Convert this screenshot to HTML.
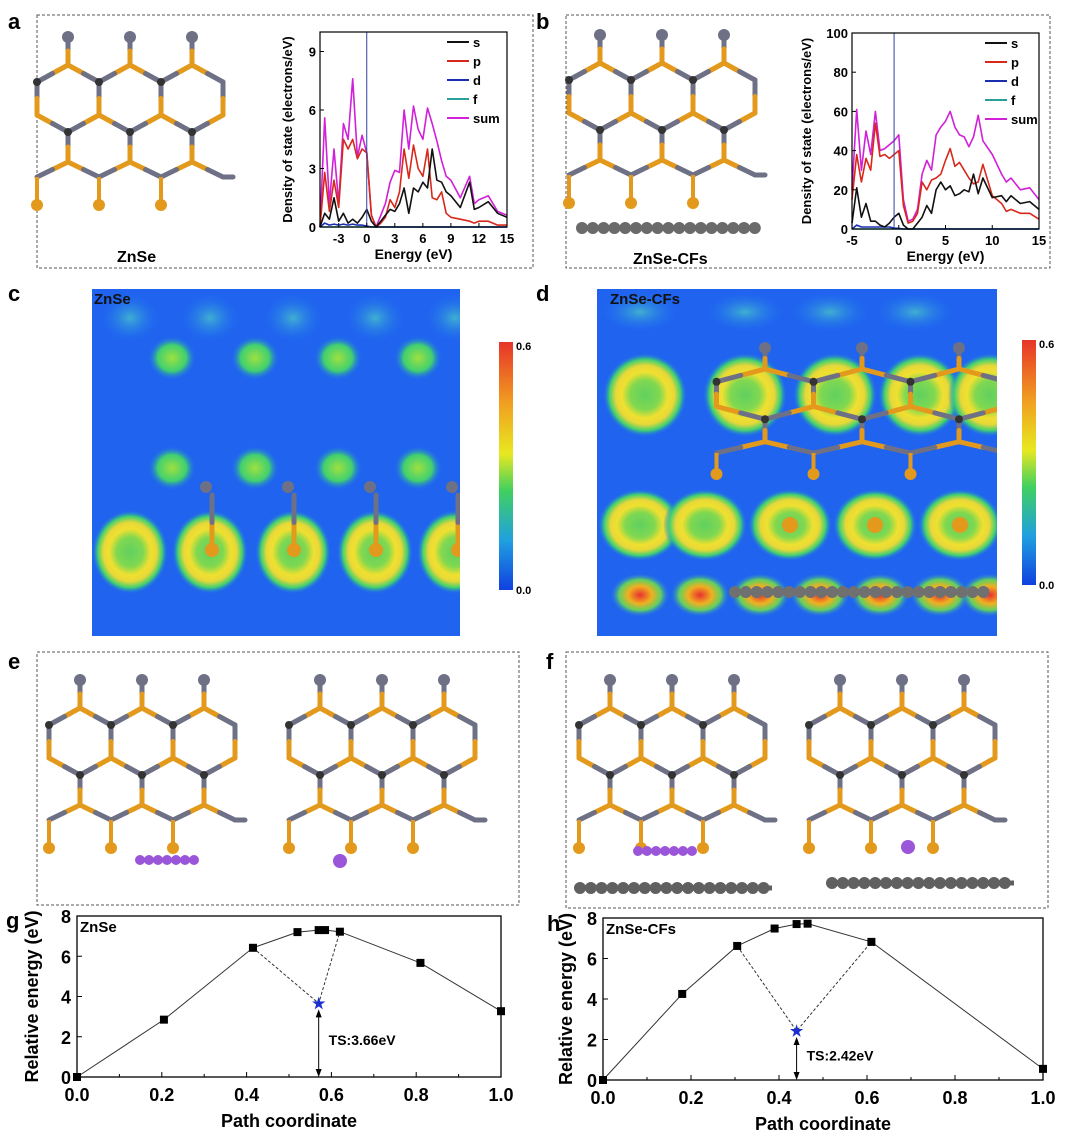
<!DOCTYPE html>
<html><head><meta charset="utf-8">
<style>
html,body{margin:0;padding:0;background:#fff;}
body{width:1080px;height:1139px;position:relative;overflow:hidden;font-family:"Liberation Sans",Arial,sans-serif;}
svg{position:absolute;left:0;top:0;}
text{font-family:"Liberation Sans",Arial,sans-serif;font-weight:bold;}
</style></head>
<body>
<svg id="fig" width="1080" height="1139" viewBox="0 0 1080 1139">
<defs>
<linearGradient id="cbar" x1="0" y1="0" x2="0" y2="1">
<stop offset="0" stop-color="#e8342a"/><stop offset="0.25" stop-color="#f0a020"/><stop offset="0.45" stop-color="#e8e820"/><stop offset="0.6" stop-color="#40d060"/><stop offset="0.8" stop-color="#20a0e0"/><stop offset="1" stop-color="#1040e0"/>
</linearGradient>
<radialGradient id="blob"><stop offset="0" stop-color="#9ee040"/><stop offset="0.6" stop-color="#40d070"/><stop offset="1" stop-color="#2070f0" stop-opacity="0"/></radialGradient>
<radialGradient id="faint"><stop offset="0" stop-color="#40b0d0"/><stop offset="1" stop-color="#2070f0" stop-opacity="0"/></radialGradient>
<radialGradient id="ring"><stop offset="0" stop-color="#60d060"/><stop offset="0.35" stop-color="#80d850"/><stop offset="0.55" stop-color="#f0e030"/><stop offset="0.7" stop-color="#e8d838"/><stop offset="0.85" stop-color="#40d070"/><stop offset="1" stop-color="#2070f0" stop-opacity="0"/></radialGradient>
<radialGradient id="redb"><stop offset="0" stop-color="#e83030"/><stop offset="0.4" stop-color="#f0b020"/><stop offset="0.7" stop-color="#60d060"/><stop offset="1" stop-color="#2070f0" stop-opacity="0"/></radialGradient>
<clipPath id="clipc"><rect x="92" y="289" width="368" height="347"/></clipPath>
<clipPath id="clipd"><rect x="597" y="289" width="400" height="347"/></clipPath>
</defs>
<g id="panels"></g>
</svg>
<script>
// ---------- DOS data ----------
const energies = [-5,-4.5,-4,-3.5,-3,-2.5,-2,-1.5,-1,-0.5,0,0.5,1,1.5,2,2.5,3,3.5,4,4.5,5,5.5,6,6.5,7,7.5,8,8.5,9,10,11,11.5,12,13,14,15];
const sumA = [0,5.6,1.2,4.0,1.2,5.3,4.5,7.6,3.6,4.7,3.8,0.6,0,0.6,1.2,2.3,2.9,2.8,6.0,4.0,6.2,5.0,4.5,6.1,5.3,4.4,3.4,2.6,2.4,1.5,2.6,1.2,1.4,1.6,0.8,0.6];
const pA = [0,2.8,0.8,2.4,1.0,4.5,4.0,4.5,3.5,4.0,3.8,0.6,0,0.2,0.5,1.4,1.0,1.8,4.0,2.5,4.2,3.0,2.6,4.0,1.5,1.4,1.8,0.7,0.5,0.4,0.3,0.2,0.3,0.3,0.1,0.1];
const sA = [0,0.7,0.4,1.5,0.3,0.7,0.2,0.4,0.2,0.5,0.9,0.3,0,0.3,0.6,0.9,0.8,1.2,2.0,0.7,2.0,1.8,2.3,2.0,4.0,2.4,2.3,1.8,1.6,1.0,2.3,0.9,1.0,1.3,0.7,0.5];
const dA = [0,0.2,0.1,0.15,0.1,0.15,0.1,0.15,0.1,0.1,0.05,0,0,0,0,0,0,0,0,0,0,0,0,0,0,0,0,0,0,0,0,0,0,0,0,0];
const sumB = [20,61,30,50,38,60,40,41,43,45,48,15,4,5,10,28,35,30,48,52,55,60,52,48,47,42,47,58,45,38,28,24,26,20,21,15];
const pB = [15,38,24,36,30,54,37,38,36,38,40,12,3,4,8,24,20,25,26,28,35,41,32,34,30,26,23,24,33,17,13,9,10,8,8,5];
const sB = [3,21,6,13,4,4,2,1,3,6,8,2,0,0,3,6,12,8,20,24,20,22,17,18,20,19,28,18,26,16,17,14,17,13,14,10];
const dB = [0,2,1,1,1,1,1,1,1,0.5,0.3,0,0,0,0,0,0,0,0,0,0,0,0,0,0,0,0,0,0,0,0,0,0,0,0,0];
const ticksA_x = [-3,0,3,6,9,12,15];
const ticksA_y = [0,3,6,9];
const ticksB_x = [-5,0,5,10,15];
const ticksB_y = [0,20,40,60,80,100];
// ---------- NEB data ----------
const pathG = [0,0.205,0.415,0.52,0.57,0.585,0.62,0.81,1.0];
const energyG = [0,2.85,6.42,7.2,7.3,7.3,7.22,5.67,3.27];
const tsG = [0.57,3.66];
const pathH = [0,0.18,0.305,0.39,0.44,0.465,0.61,1.0];
const energyH = [0,4.25,6.62,7.48,7.7,7.72,6.82,0.55];
const tsH = [0.44,2.42];
const ticksPath = [0,0.2,0.4,0.6,0.8,1.0];
const ticksEnergy = [0,2,4,6,8];

const NS="http://www.w3.org/2000/svg";
const root=document.getElementById('panels');
function el(tag,attrs,parent,txt){const e=document.createElementNS(NS,tag);for(const k in attrs)e.setAttribute(k,attrs[k]);if(txt!==undefined)e.textContent=txt;(parent||root).appendChild(e);return e;}

function box(x,y,w,h,name){const r=el('rect',{x:x,y:y,width:w,height:h,fill:'none',stroke:'#555','stroke-dasharray':'3,2','stroke-width':1});

}
box(37,15,496,253,'panel-a-frame');box(566,15,484,253,'panel-b-frame');
box(37,652,482,253,'panel-e-frame');box(566,652,482,256,'panel-f-frame');

function label(t,x,y,name,size){const e=el('text',{x:x,y:y,'font-size':size||22,fill:'#000'},root,t);

return e;}
label('a',8,29,'panel-label-a');label('b',536,29,'panel-label-b');
label('c',8,301,'panel-label-c');label('d',536,301,'panel-label-d');
label('e',8,669,'panel-label-e');label('f',546,669,'panel-label-f');
label('g',6,928,'panel-label-g');label('h',547,931,'panel-label-h');

function stick(g,x1,y1,x2,y2,c1,c2){const mx=(x1+x2)/2,my=(y1+y2)/2;
el('line',{x1:x1,y1:y1,x2:mx,y2:my,stroke:c1,'stroke-width':5,'stroke-linecap':'round'},g);
el('line',{x1:mx,y1:my,x2:x2,y2:y2,stroke:c2,'stroke-width':5,'stroke-linecap':'round'},g);}
const GR='#6e7086',OR='#e39a1c';
function slab(x0,y0,n,dx,name,scale,parent){const g=el('g',{},parent||root);


const s=scale||1;
for(let i=0;i<n;i++){const x=x0+i*dx;
 stick(g,x,y0,x,y0+28*s,GR,OR);
 stick(g,x,y0+28*s,x-dx/2,y0+45*s,OR,GR);stick(g,x,y0+28*s,x+dx/2,y0+45*s,OR,GR);
 stick(g,x-dx/2,y0+45*s,x-dx/2,y0+78*s,GR,OR);
 stick(g,x-dx/2,y0+78*s,x,y0+95*s,OR,GR);stick(g,x+dx/2,y0+78*s,x,y0+95*s,OR,GR);
 stick(g,x,y0+95*s,x,y0+125*s,GR,OR);
 stick(g,x,y0+125*s,x-dx/2,y0+140*s,OR,GR);stick(g,x,y0+125*s,x+dx/2,y0+140*s,OR,GR);
 el('line',{x1:x-dx/2,y1:y0+140*s,x2:x-dx/2,y2:y0+165*s,stroke:OR,'stroke-width':4},g);
 el('circle',{cx:x-dx/2,cy:y0+168*s,r:6,fill:OR},g);
 el('circle',{cx:x,cy:y0,r:6,fill:GR},g);
 el('circle',{cx:x-dx/2,cy:y0+45*s,r:4,fill:'#333'},g);
 el('circle',{cx:x,cy:y0+95*s,r:4,fill:'#333'},g);
}
const x=x0+n*dx; stick(g,x-dx/2,y0+45*s,x-dx/2,y0+78*s,GR,OR);
stick(g,x-dx/2,y0+140*s,x-dx/2+10,y0+140*s,GR,GR);
return g;}
slab(68,37,3,62,'znse-structure-a');
slab(600,35,3,62,'znse-structure-b');
slab(80,680,3,62,'znse-structure-e-left');
slab(320,680,3,62,'znse-structure-e-right');
slab(610,680,3,62,'znse-structure-f-left');
slab(840,680,3,62,'znse-structure-f-right');
function chain(x1,x2,y,name,col,r,parent){const g=el('g',{},parent||root);


el('line',{x1:x1,y1:y,x2:x2,y2:y,stroke:col,'stroke-width':5},g);
for(let x=x1;x<=x2;x+=r*1.8)el('circle',{cx:x,cy:y,r:r,fill:col},g);}
chain(582,760,228,'carbon-layer-b','#6a6a6a',6);
chain(140,196,860,'li-cluster-e','#9a55d8',5);
chain(638,696,851,'li-cluster-f','#9a55d8',5);
chain(580,772,888,'carbon-layer-f-left','#606060',6);
chain(832,1014,883,'carbon-layer-f-right','#606060',6);
el('circle',{cx:340,cy:861,r:7,fill:'#9a55d8'});
el('circle',{cx:908,cy:847,r:7,fill:'#9a55d8'});
label('ZnSe',117,262,'caption-znse-a',16);
label('ZnSe-CFs',633,264,'caption-znse-cfs-b',16);

function heat(x,y,w,h,name,clip){const g=el('g',{'clip-path':'url(#'+clip+')'},root);


el('rect',{x:x,y:y,width:w,height:h,fill:'#1f63ef'},g);return g;}
const gc=heat(92,289,368,347,'charge-density-map-znse','clipc');
[130,210,293,375,455].forEach(cx=>el('ellipse',{cx:cx,cy:318,rx:30,ry:25,fill:'url(#faint)'},gc));
[172,255,338,418].forEach(cx=>{el('ellipse',{cx:cx,cy:358,rx:24,ry:22,fill:'url(#blob)'},gc);el('ellipse',{cx:cx,cy:468,rx:24,ry:22,fill:'url(#blob)'},gc);});
[130,210,293,375,455].forEach(cx=>el('ellipse',{cx:cx,cy:552,rx:38,ry:42,fill:'url(#ring)'},gc));
[212,294,376,458].forEach(cx=>{stick(gc,cx,550,cx,495,OR,GR);el('circle',{cx:cx,cy:550,r:7,fill:OR},gc);el('circle',{cx:cx-6,cy:487,r:6,fill:GR},gc);});
el('text',{x:94,y:304,'font-size':15,fill:'#111'},gc,'ZnSe');
const gd=heat(597,289,400,347,'charge-density-map-znse-cfs','clipd');
[640,745,830,915].forEach(cx=>el('ellipse',{cx:cx,cy:312,rx:40,ry:20,fill:'url(#faint)'},gd));
[645,745,835,920,990].forEach(cx=>el('ellipse',{cx:cx,cy:395,rx:42,ry:42,fill:'url(#ring)'},gd));
[640,705,790,875,960].forEach(cx=>el('ellipse',{cx:cx,cy:525,rx:42,ry:36,fill:'url(#ring)'},gd));
[640,700,760,820,880,940,990].forEach(cx=>el('ellipse',{cx:cx,cy:595,rx:30,ry:22,fill:'url(#redb)'},gd));
slab(765,348,3,97,'znse-structure-d',0.75,gd);
chain(735,985,592,'carbon-layer-d','#707070',6,gd);
[790,875,960].forEach(cx=>el('circle',{cx:cx,cy:525,r:8,fill:OR},gd));
el('text',{x:610,y:304,'font-size':15,fill:'#111'},gd,'ZnSe-CFs');
function cbar(x,y,h,name){const g=el('g',{},root);


el('rect',{x:x,y:y,width:14,height:h,fill:'url(#cbar)'},g);
el('text',{x:x+17,y:y+8,'font-size':11},g,'0.6');el('text',{x:x+17,y:y+h+4,'font-size':11},g,'0.0');}
cbar(499,342,248,'colorbar-c');cbar(1022,340,245,'colorbar-d');

function dos(cfg){const g=el('g',{},root);


const X=v=>cfg.x0+(v-cfg.xmin)/(cfg.xmax-cfg.xmin)*(cfg.x1-cfg.x0);
const Y=v=>cfg.y0-(v-cfg.ymin)/(cfg.ymax-cfg.ymin)*(cfg.y0-cfg.y1);
const series=[[cfg.f,'#2aa198','f'],[cfg.d,'#1a2fb0','d'],[cfg.sum,'#d020d8','sum'],[cfg.p,'#d8281c','p'],[cfg.s,'#111','s']];
series.forEach(([arr,col,nm])=>{const pts=energies.map((e,i)=>X(e).toFixed(1)+','+Y(arr[i]).toFixed(1)).join(' ');
const pl=el('polyline',{points:pts,fill:'none',stroke:col,'stroke-width':1.6,'stroke-linejoin':'round'},g);

});
el('line',{x1:X(cfg.vline),y1:cfg.y1,x2:X(cfg.vline),y2:cfg.y0,stroke:'#3040a0','stroke-width':1},g);
el('rect',{x:cfg.x0,y:cfg.y1,width:cfg.x1-cfg.x0,height:cfg.y0-cfg.y1,fill:'none',stroke:'#000','stroke-width':1.2},g);
cfg.tx.forEach(t=>{el('line',{x1:X(t),y1:cfg.y0,x2:X(t),y2:cfg.y0-4,stroke:'#000'},g);el('text',{x:X(t),y:cfg.y0+16,'font-size':13,'text-anchor':'middle'},g,String(t));});
cfg.ty.forEach(t=>{el('line',{x1:cfg.x0,y1:Y(t),x2:cfg.x0+4,y2:Y(t),stroke:'#000'},g);el('text',{x:cfg.x0-4,y:Y(t)+5,'font-size':13,'text-anchor':'end'},g,String(t));});
el('text',{x:(cfg.x0+cfg.x1)/2,y:cfg.y0+32,'font-size':14,'text-anchor':'middle'},g,'Energy (eV)');
el('text',{x:0,y:0,'font-size':13,'text-anchor':'middle',transform:`translate(${cfg.ylx},${(cfg.y0+cfg.y1)/2}) rotate(-90)`},g,'Density of state (electrons/eV)');
const leg=[['s','#111'],['p','#d8281c'],['d','#1a2fb0'],['f','#2aa198'],['sum','#d020d8']];
leg.forEach(([t,c],i)=>{const yy=cfg.y1+10+i*19;el('line',{x1:cfg.lx,y1:yy,x2:cfg.lx+22,y2:yy,stroke:c,'stroke-width':2},g);el('text',{x:cfg.lx+26,y:yy+5,'font-size':13},g,t);});
}
dos({name:'dos-chart-znse',x0:320,x1:507,y0:227,y1:32,xmin:-5,xmax:15,ymin:0,ymax:10,s:sA,p:pA,d:dA,f:energies.map(()=>0),sum:sumA,tx:ticksA_x,ty:ticksA_y,vline:0,ylx:292,lx:447});
dos({name:'dos-chart-znse-cfs',x0:852,x1:1039,y0:229,y1:33,xmin:-5,xmax:15,ymin:0,ymax:100,s:sB,p:pB,d:dB,f:energies.map(()=>0),sum:sumB,tx:ticksB_x,ty:ticksB_y,vline:-0.5,ylx:811,lx:985});

function neb(cfg){const g=el('g',{},root);


const X=v=>cfg.x0+v*(cfg.x1-cfg.x0);const Y=v=>cfg.y0-v/8*(cfg.y0-cfg.y1);
el('rect',{x:cfg.x0,y:cfg.y1,width:cfg.x1-cfg.x0,height:cfg.y0-cfg.y1,fill:'none',stroke:'#000','stroke-width':1.3},g);
const pl=el('polyline',{points:cfg.px.map((p,i)=>X(p)+','+Y(cfg.py[i])).join(' '),fill:'none',stroke:'#333','stroke-width':1},g);


const ia=cfg.dashFrom,ib=cfg.dashTo;
el('polyline',{points:`${X(cfg.px[ia])},${Y(cfg.py[ia])} ${X(cfg.ts[0])},${Y(cfg.ts[1])} ${X(cfg.px[ib])},${Y(cfg.py[ib])}`,fill:'none',stroke:'#333','stroke-width':1,'stroke-dasharray':'3,2'},g);
cfg.px.forEach((p,i)=>{const r=el('rect',{x:X(p)-4,y:Y(cfg.py[i])-4,width:8,height:8,fill:'#000'},g);

});
el('line',{x1:X(cfg.ts[0]),y1:Y(cfg.ts[1])+8,x2:X(cfg.ts[0]),y2:cfg.y0-2,stroke:'#000','stroke-width':1},g);
el('path',{d:`M${X(cfg.ts[0])-3},${Y(cfg.ts[1])+14} L${X(cfg.ts[0])},${Y(cfg.ts[1])+6} L${X(cfg.ts[0])+3},${Y(cfg.ts[1])+14}Z M${X(cfg.ts[0])-3},${cfg.y0-8} L${X(cfg.ts[0])},${cfg.y0} L${X(cfg.ts[0])+3},${cfg.y0-8}Z`,fill:'#000'},g);
const st=el('text',{x:X(cfg.ts[0]),y:Y(cfg.ts[1])+5,'font-size':15,'text-anchor':'middle',fill:'#1a2fd0'},g,'★');


el('text',{x:X(cfg.ts[0])+10,y:Y(cfg.ts[1]/2)+5,'font-size':14},g,'TS:'+cfg.ts[1].toFixed(2)+'eV');
for(let t=0;t<=1.0001;t+=0.1){el('line',{x1:X(t),y1:cfg.y0,x2:X(t),y2:cfg.y0-(Math.round(t*10)%2?3:5),stroke:'#000'},g);}
ticksPath.forEach(t=>el('text',{x:X(t),y:cfg.y0+24,'font-size':18,'text-anchor':'middle'},g,t.toFixed(1)));
ticksEnergy.forEach(t=>{el('line',{x1:cfg.x0,y1:Y(t),x2:cfg.x0+5,y2:Y(t),stroke:'#000'},g);el('text',{x:cfg.x0-6,y:Y(t)+7,'font-size':18,'text-anchor':'end'},g,String(t));});
el('text',{x:(cfg.x0+cfg.x1)/2,y:cfg.y0+50,'font-size':18,'text-anchor':'middle'},g,'Path coordinate');
el('text',{x:0,y:0,'font-size':18,'text-anchor':'middle',transform:`translate(${cfg.ylx},${(cfg.y0+cfg.y1)/2}) rotate(-90)`},g,'Relative energy (eV)');
el('text',{x:cfg.x0+3,y:cfg.y1+16,'font-size':15},g,cfg.title);
}
neb({name:'neb-chart-znse',x0:77,x1:501,y0:1077,y1:916,px:pathG,py:energyG,ts:tsG,dashFrom:2,dashTo:6,ylx:38,title:'ZnSe'});
neb({name:'neb-chart-znse-cfs',x0:603,x1:1043,y0:1080,y1:918,px:pathH,py:energyH,ts:tsH,dashFrom:2,dashTo:6,ylx:572,title:'ZnSe-CFs'});
</script>
</body></html>
